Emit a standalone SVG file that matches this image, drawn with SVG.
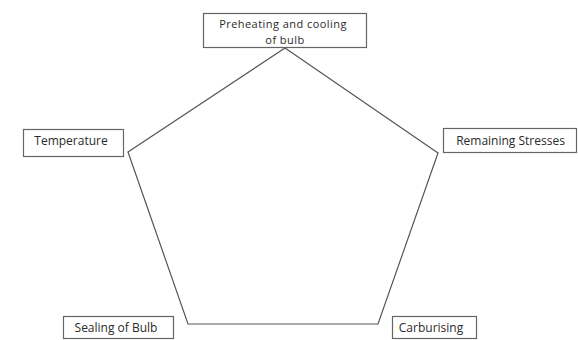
<svg xmlns="http://www.w3.org/2000/svg" width="578" height="340" viewBox="0 0 578 340">
<style>
.box{fill:#fff;stroke:#666;stroke-width:1.2}
.lbl{font-family:"Open Sans","Liberation Sans",sans-serif;font-size:12px;fill:#2a2a2a;text-anchor:middle}
.sm{font-size:11px;letter-spacing:0.45px}
.edge{fill:none;stroke:#555;stroke-width:1.2}
</style>
<rect width="578" height="340" fill="#fff"/>
<g id="connectors">
<polygon class="edge" points="285,48 438,153 378,324 188,324 128,152"/>
</g>
<g id="node-preheating">
<rect class="box" x="203.5" y="13.5" width="163" height="34"/>
<text class="lbl sm" x="283" y="28">Preheating and cooling</text>
<text class="lbl sm" x="285" y="43.5">of bulb</text>
</g>
<g id="node-remaining">
<rect class="box" x="443.5" y="128.5" width="133" height="24"/>
<text class="lbl" x="510.5" y="145">Remaining Stresses</text>
</g>
<g id="node-carburising">
<rect class="box" x="392.5" y="316.5" width="84" height="22"/>
<text class="lbl" x="431" y="332">Carburising</text>
</g>
<g id="node-sealing">
<rect class="box" x="63.5" y="316.5" width="110" height="22"/>
<text class="lbl" x="116" y="332">Sealing of Bulb</text>
</g>
<g id="node-temperature">
<rect class="box" x="23.5" y="129.5" width="100" height="27"/>
<text class="lbl" x="71" y="145">Temperature</text>
</g>
</svg>
